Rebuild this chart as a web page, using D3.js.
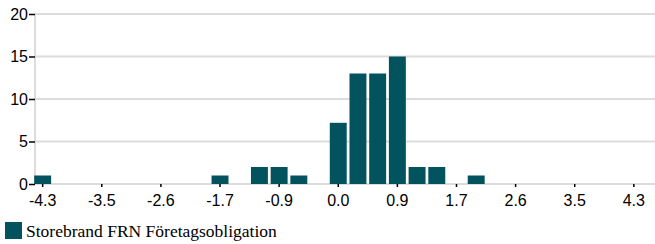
<!DOCTYPE html>
<html><head><meta charset="utf-8">
<script src="https://cdn.jsdelivr.net/npm/d3@7"></script>
<style>body{margin:0;background:#fff;}svg{display:block;}</style>
</head><body>
<svg id="c" width="655" height="244"></svg>
<script>
const bins = d3.range(31).map(i => "b" + i);
const counts = [1,0,0,0,0,0,0,0,0,1,0,2,2,1,0,7.2,13,13,15,2,2,0,1,0,0,0,0,0,0,0,0];
const tickLabels = ["-4.3","-3.5","-2.6","-1.7","-0.9","0.0","0.9","1.7","2.6","3.5","4.3"];
const yTicks = [0,5,10,15,20];
const seriesName = "Storebrand FRN Företagsobligation";
const color = "#03535f";

(function(){
const svg = d3.select("#c");
const mLeft = 35, mRight = 655, mTop = 14, mBottom = 184;
const step = (632 - 43) / 30;
const x = d3.scaleBand().domain(bins).range([44 - step/2, 632.5 + step/2]).paddingInner(0.14).paddingOuter(0);
const y = d3.scaleLinear().domain([0,20]).range([mBottom, mTop]);

svg.append("g").selectAll("line").data(yTicks).join("line")
  .attr("x1", mLeft).attr("x2", mRight)
  .attr("y1", d => y(d)).attr("y2", d => y(d))
  .attr("stroke", "#dcdcdc").attr("stroke-width", 2);
svg.append("line").attr("x1", mLeft).attr("x2", mLeft).attr("y1", mTop).attr("y2", mBottom)
  .attr("stroke", "#dcdcdc").attr("stroke-width", 2);

svg.append("g").selectAll("rect").data(counts.map((v,i)=>({k:bins[i],v}))).join("rect")
  .attr("x", d => x(d.k)).attr("width", x.bandwidth())
  .attr("y", d => y(d.v)).attr("height", d => mBottom - y(d.v))
  .attr("fill", color);

const ya = svg.append("g").attr("transform", `translate(${mLeft},0)`)
  .call(d3.axisLeft(y).tickValues(yTicks).tickSize(6).tickPadding(1).tickFormat(d3.format("d")));
ya.select(".domain").remove();
ya.selectAll(".tick line").attr("stroke", "#000").attr("stroke-width", 1.5);
ya.selectAll("text").attr("font-family", "Liberation Sans, Arial, sans-serif").attr("font-size", 16).attr("fill", "#000");

const tickBins = bins.filter((b,i) => i % 3 === 0);
const xa = svg.append("g").attr("transform", `translate(0,${mBottom})`)
  .call(d3.axisBottom(x).tickValues(tickBins).tickSize(3).tickPadding(8)
    .tickFormat((d,i) => tickLabels[i]));
xa.select(".domain").remove();
xa.selectAll(".tick line").attr("stroke", "#000").attr("stroke-width", 1.5);
xa.selectAll("text").attr("font-family", "Liberation Sans, Arial, sans-serif").attr("font-size", 16).attr("fill", "#000");

svg.append("rect").attr("x", 5).attr("y", 222).attr("width", 17).attr("height", 17).attr("fill", color);
svg.append("text").attr("x", 26).attr("y", 237).text(seriesName)
  .attr("font-family", "Liberation Serif, Times New Roman, serif").attr("font-size", 17.5).attr("fill", "#000");
})();
</script>
</body></html>
